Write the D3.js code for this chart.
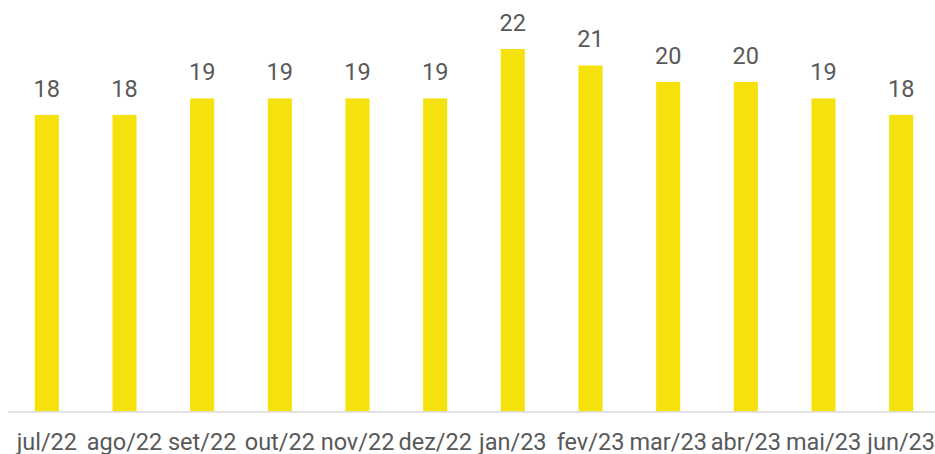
<!DOCTYPE html>
<html>
<head>
<meta charset="utf-8">
<style>
body { margin: 0; background: #fff; }
text { font-family: Roboto, sans-serif; fill: #595959; }
</style>
</head>
<body>
<svg width="935" height="454"></svg>
<script src="https://d3js.org/d3.v7.min.js"></script>
<script>
var months = ["jul/22", "ago/22", "set/22", "out/22", "nov/22", "dez/22",
              "jan/23", "fev/23", "mar/23", "abr/23", "mai/23", "jun/23"];
var values = [18, 18, 19, 19, 19, 19, 22, 21, 20, 20, 19, 18];

var svg = d3.select("svg");

var x = d3.scaleBand()
    .domain(months)
    .range([8, 940])
    .paddingInner(0.69)
    .paddingOuter(0.345);

var y = d3.scaleLinear()
    .domain([0, 22])
    .range([411.5, 49]);

var data = months.map(function(m, i) { return {month: m, value: values[i]}; });

svg.append("g")
  .selectAll("rect")
  .data(data)
  .enter().append("rect")
    .attr("x", function(d) { return x(d.month); })
    .attr("y", function(d) { return y(d.value); })
    .attr("width", x.bandwidth())
    .attr("height", function(d) { return y(0) - y(d.value); })
    .attr("fill", "#F5E20C");

// baseline
svg.append("line")
    .attr("x1", 8).attr("x2", 935)
    .attr("y1", y(0) + 0.5).attr("y2", y(0) + 0.5)
    .attr("stroke", "#d9d9d9")
    .attr("stroke-width", 1.5);

// value labels
svg.append("g")
  .selectAll("text")
  .data(data)
  .enter().append("text")
    .attr("x", function(d) { return x(d.month) + x.bandwidth() / 2; })
    .attr("y", function(d) { return y(d.value) - 18; })
    .attr("text-anchor", "middle")
    .style("font-size", "23.5px")
    .text(function(d) { return d.value; });

// month labels
var axis = svg.append("g")
    .attr("transform", "translate(0," + y(0) + ")")
    .call(d3.axisBottom(x).tickSize(0).tickPadding(0));
axis.select(".domain").remove();
axis.selectAll("text")
    .attr("dy", null)
    .attr("y", 38.5)
    .style("font-size", "23.5px")
    .style("font-family", "Roboto, sans-serif")
    .attr("fill", "#595959");
</script>
</body>
</html>
